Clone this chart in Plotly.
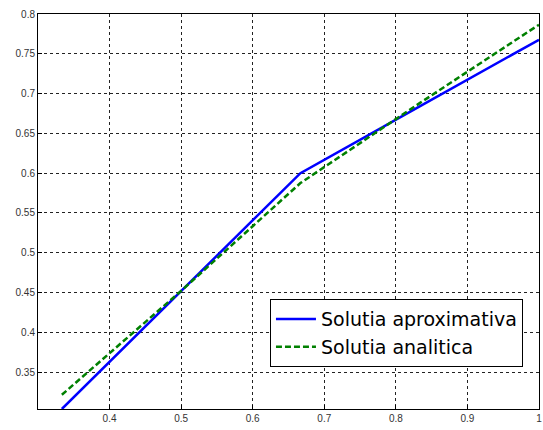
import plotly.graph_objects as go

x_approx = [1/3, 0.5, 2/3, 5/6, 1.0]
y_approx = [0.3035, 0.452, 0.600, 0.684, 0.7677]
x_anal = [1/3, 0.5, 2/3, 5/6, 1.0]
y_anal = [0.3214, 0.452, 0.5875, 0.688, 0.7866]
name_approx = "Solutia aproximativa"
name_anal = "Solutia analitica"
x_ticks = [0.4, 0.5, 0.6, 0.7, 0.8, 0.9, 1.0]
x_ticklabels = ["0.4", "0.5", "0.6", "0.7", "0.8", "0.9", "1"]
y_ticks = [0.35, 0.4, 0.45, 0.5, 0.55, 0.6, 0.65, 0.7, 0.75, 0.8]
y_ticklabels = ["0.35", "0.4", "0.45", "0.5", "0.55", "0.6", "0.65", "0.7", "0.75", "0.8"]

fig = go.Figure()
fig.add_trace(go.Scatter(x=x_approx, y=y_approx, mode="lines", name=name_approx,
                         line=dict(color="#0000ff", width=2.5)))
fig.add_trace(go.Scatter(x=x_anal, y=y_anal, mode="lines", name=name_anal,
                         line=dict(color="#008000", width=2.5, dash="6px,3px")))

axis_common = dict(showline=True, linecolor="black", linewidth=1, mirror=True,
                   showgrid=True, gridcolor="#222222", gridwidth=1, griddash="3px,3px",
                   zeroline=False, ticks="inside", ticklen=4, tickcolor="black",
                   ticklabeloverflow="allow",
                   tickfont=dict(family="Liberation Sans, Arial", size=10, color="#333333"))

fig.update_xaxes(range=[0.3, 1.00005], tickvals=x_ticks, ticktext=x_ticklabels, **axis_common)
fig.update_yaxes(range=[0.3035, 0.80005], tickvals=y_ticks, ticktext=y_ticklabels, **axis_common)

fig.update_layout(
    width=543, height=430,
    margin=dict(l=38, r=1, t=14, b=21),
    paper_bgcolor="white", plot_bgcolor="white",
    font=dict(family="Liberation Sans, Arial", color="black"),
    legend=dict(x=0.968, y=0.106, xanchor="right", yanchor="bottom",
                bgcolor="white", bordercolor="black", borderwidth=1,
                font=dict(family="DejaVu Sans", size=19, color="black"), itemwidth=40,
                tracegroupgap=0),
)

fig.write_html("out.html")
